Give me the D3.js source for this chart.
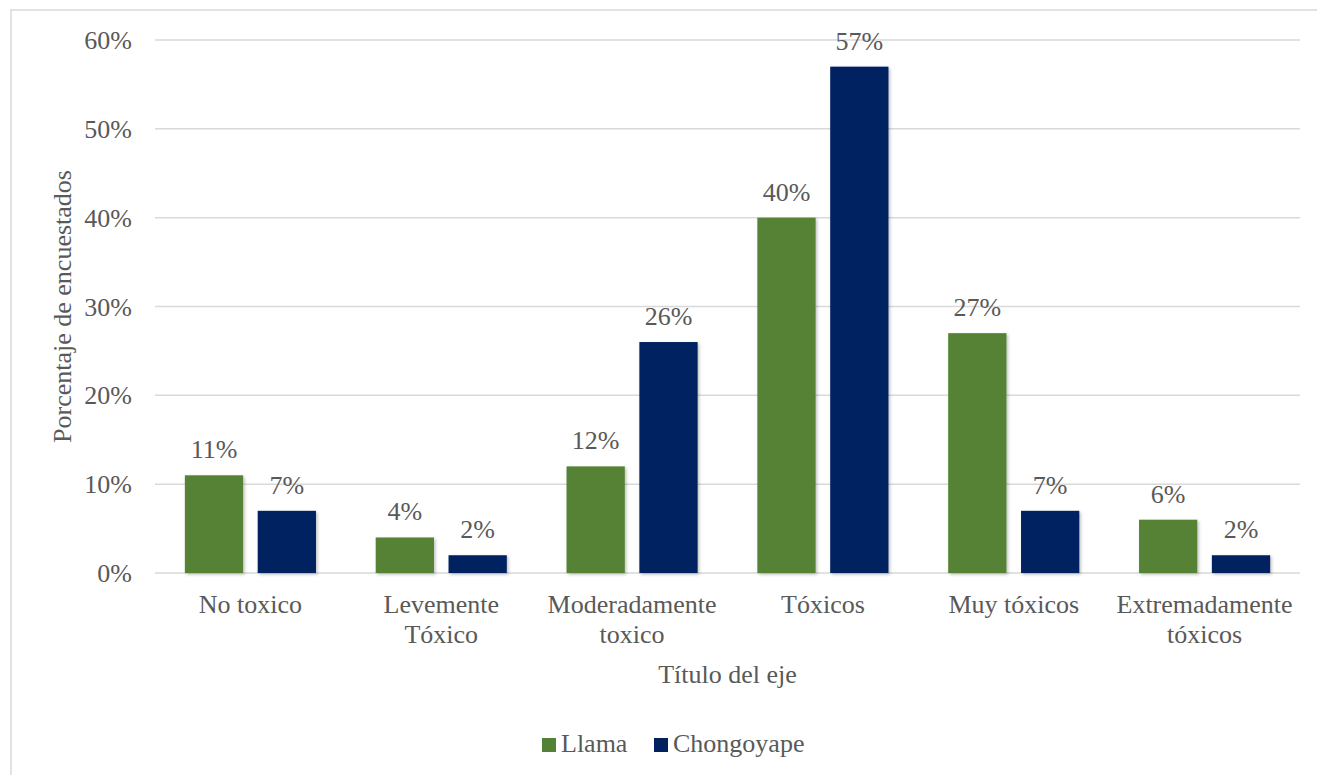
<!DOCTYPE html>
<html>
<head>
<meta charset="utf-8">
<script src="https://cdn.jsdelivr.net/npm/d3@7"></script>
<style>
  html, body { margin: 0; padding: 0; background: #ffffff; }
  svg { display: block; }
  svg text { font-family: "Liberation Serif", "Times New Roman", "DejaVu Serif", serif; fill: #595959; }
</style>
</head>
<body>
<svg id="chart" width="1317" height="775" font-family="Liberation Serif, Times New Roman, DejaVu Serif, serif"></svg>
<script>
// Toxicity categories and survey shares (%) per locality
const categories = [
  ["No toxico"],
  ["Levemente", "Tóxico"],
  ["Moderadamente", "toxico"],
  ["Tóxicos"],
  ["Muy tóxicos"],
  ["Extremadamente", "tóxicos"]
];
const seriesNames = ["Llama", "Chongoyape"];
const llama = [11, 4, 12, 40, 27, 6];
const chongoyape = [7, 2, 26, 57, 7, 2];
const yTicks = [0, 10, 20, 30, 40, 50, 60];
const colors = ["#548235", "#002060"];

const FONT = "'Liberation Serif', 'Times New Roman', 'DejaVu Serif', serif";
const svg = d3.select("#chart");
const margin = { left: 155, right: 1300, top: 40, bottom: 573 };

// Outer chart frame
svg.append("rect")
  .attr("x", 11).attr("y", 10)
  .attr("width", 1330).attr("height", 800)
  .attr("fill", "none")
  .attr("stroke", "#d9d9d9")
  .attr("stroke-width", 1.5);

const defs = svg.append("defs");
const shadow = defs.append("filter").attr("id", "barShadow")
  .attr("x", "-10%").attr("y", "-10%").attr("width", "130%").attr("height", "130%");
shadow.append("feDropShadow")
  .attr("dx", 1.5).attr("dy", 1.5).attr("stdDeviation", 1.5)
  .attr("flood-color", "#000").attr("flood-opacity", 0.25);

const x0 = d3.scaleBand()
  .domain(d3.range(categories.length))
  .range([margin.left, margin.right])
  .paddingInner(0).paddingOuter(0);

const x1 = d3.scaleBand()
  .domain(d3.range(seriesNames.length))
  .range([0, x0.bandwidth()])
  .paddingInner(0.2)
  .paddingOuter(0.41);

const y = d3.scaleLinear().domain([0, 60]).range([margin.bottom, margin.top]);

// Horizontal gridlines
svg.append("g")
  .selectAll("line")
  .data(yTicks)
  .join("line")
  .attr("x1", margin.left).attr("x2", margin.right)
  .attr("y1", d => y(d)).attr("y2", d => y(d))
  .attr("stroke", "#d9d9d9")
  .attr("stroke-width", 1.5);

const textLayer = svg.append("g").attr("font-family", FONT).style("font-family", FONT);

// Y tick labels
textLayer.append("g")
  .selectAll("text")
  .data(yTicks)
  .join("text")
  .attr("x", 132)
  .attr("y", d => y(d) + 9)
  .attr("text-anchor", "end")
  .attr("font-size", 26)
  .text(d => d + "%");

// Bars
const series = [llama, chongoyape];
const groups = svg.append("g")
  .selectAll("g")
  .data(categories.map((c, i) => i))
  .join("g")
  .attr("transform", i => `translate(${x0(i)},0)`);

groups.selectAll("rect")
  .data(i => series.map((s, k) => ({ k, v: s[i] })))
  .join("rect")
  .attr("x", d => x1(d.k))
  .attr("width", x1.bandwidth())
  .attr("y", d => y(d.v))
  .attr("height", d => y(0) - y(d.v))
  .attr("fill", d => colors[d.k])
  .attr("filter", "url(#barShadow)");

// Value labels above bars
groups.selectAll("text.value")
  .data(i => series.map((s, k) => ({ k, v: s[i] })))
  .join("text")
  .attr("class", "value")
  .style("font-family", FONT)
  .attr("x", d => x1(d.k) + x1.bandwidth() / 2)
  .attr("y", d => y(d.v) - 17)
  .attr("text-anchor", "middle")
  .attr("font-size", 26)
  .text(d => d.v + "%");

// Category labels (one or two lines)
const catLabels = textLayer.append("g")
  .selectAll("text")
  .data(categories)
  .join("text")
  .attr("x", (d, i) => x0(i) + x0.bandwidth() / 2)
  .attr("y", 613)
  .attr("text-anchor", "middle")
  .attr("font-size", 26);
catLabels.selectAll("tspan")
  .data(d => d)
  .join("tspan")
  .attr("x", function () { return d3.select(this.parentNode).attr("x"); })
  .attr("dy", (d, j) => j === 0 ? 0 : 30)
  .text(d => d);

// Axis titles
textLayer.append("text")
  .attr("x", (margin.left + margin.right) / 2)
  .attr("y", 683)
  .attr("text-anchor", "middle")
  .attr("font-size", 26)
  .text("Título del eje");

textLayer.append("text")
  .attr("transform", `translate(71,${(margin.top + margin.bottom) / 2}) rotate(-90)`)
  .attr("text-anchor", "middle")
  .attr("font-size", 26)
  .text("Porcentaje de encuestados");

// Legend
const legendX = [542, 654];
const legend = textLayer.append("g")
  .selectAll("g")
  .data(seriesNames)
  .join("g")
  .attr("transform", (d, i) => `translate(${legendX[i]},752)`);
legend.append("rect")
  .attr("x", 0).attr("y", -14)
  .attr("width", 14).attr("height", 14)
  .attr("fill", (d, i) => colors[i]);
legend.append("text")
  .attr("x", 19).attr("y", 0)
  .attr("font-size", 26)
  .text(d => d);
</script>
</body>
</html>
